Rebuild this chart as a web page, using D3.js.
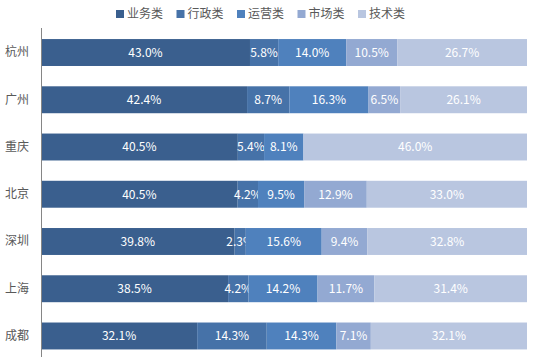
<!DOCTYPE html>
<html><head><meta charset="utf-8">
<script src="https://cdn.jsdelivr.net/npm/d3@7"></script>
<style>body{margin:0;background:#fff}svg{display:block}</style>
</head><body>
<svg id="c" width="535" height="357"></svg>
<script>
const cities = ["杭州","广州","重庆","北京","深圳","上海","成都"];
const seriesNames = ["业务类","行政类","运营类","市场类","技术类"];
const yewu =    [43.0,42.4,40.5,40.5,39.8,38.5,32.1];
const xingzheng=[5.8,8.7,5.4,4.2,2.3,4.2,14.3];
const yunying = [14.0,16.3,8.1,9.5,15.6,14.2,14.3];
const shichang =[10.5,6.5,0,12.9,9.4,11.7,7.1];
const jishu =   [26.7,26.1,46.0,33.0,32.8,31.4,32.1];
const colors = ["#3A5F8E","#4672A8","#4F81BD","#93A9D2","#B9C6E0"];

const seriesVals = [yewu,xingzheng,yunying,shichang,jishu];
const table = cities.map((c,i)=>{const o={city:c};seriesNames.forEach((s,j)=>o[s]=seriesVals[j][i]);return o;});
const stack = d3.stack().keys(seriesNames).offset(d3.stackOffsetExpand)(table);

const svg = d3.select("#c");
const font = "'Noto Sans CJK SC','Noto Sans',sans-serif";
const x = d3.scaleLinear().domain([0,1]).range([41,527]);
const y = d3.scaleBand().domain(cities).range([28.9,359.6]).paddingInner(0.43).paddingOuter(0.215);

const g = svg.append("g");
stack.forEach((layer,j)=>{
  const lg = g.append("g").attr("fill",colors[j]);
  lg.selectAll("rect").data(layer).join("rect")
    .attr("x",d=>x(d[0])).attr("width",d=>x(d[1])-x(d[0]))
    .attr("y",d=>y(d.data.city)).attr("height",y.bandwidth());
  lg.selectAll("text").data(layer.filter(d=>d.data[seriesNames[j]]>0)).join("text")
    .attr("x",d=>(x(d[0])+x(d[1]))/2).attr("y",d=>y(d.data.city)+y.bandwidth()/2)
    .attr("dy","0.36em").attr("text-anchor","middle")
    .attr("fill","#fff").attr("font-family",font).attr("font-size",12)
    .text(d=>d.data[seriesNames[j]].toFixed(1)+"%");
});

// y axis
const ax = d3.axisLeft(y).tickSize(0).tickPadding(12);
const axg = svg.append("g").attr("transform","translate(41,0)").call(ax);
axg.select(".domain").attr("stroke","#868686").attr("d","M0.5,28V357");
axg.selectAll("text").attr("font-family",font).attr("font-size",12).attr("fill","#595959");

// legend
const leg = svg.append("g");
seriesNames.forEach((s,j)=>{
  const lx = 116 + j*60.5;
  leg.append("rect").attr("x",lx).attr("y",10).attr("width",8).attr("height",8).attr("fill",colors[j]);
  leg.append("text").attr("x",lx+11).attr("y",14).attr("dy","0.36em")
    .attr("font-family",font).attr("font-size",12).attr("fill","#595959").text(s);
});
</script>
</body></html>
